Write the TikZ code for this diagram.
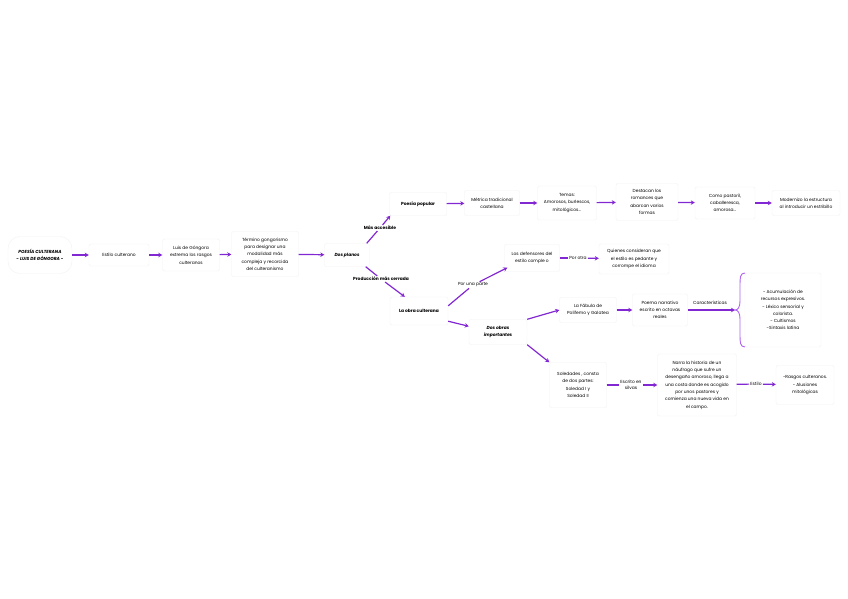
\documentclass[tikz,border=0pt]{standalone}
\usepackage{fontspec}
\setmainfont{Poppins}
\usetikzlibrary{arrows.meta}
\definecolor{purp}{RGB}{130,40,210}
\definecolor{lpurp}{RGB}{175,100,240}
\begin{document}
\begin{tikzpicture}[x=1pt,y=-1pt,
 box/.style={draw=black!5, fill=white, rounded corners=2pt, align=center, font=\fontsize{4.4}{7.3}\selectfont, inner sep=0pt},
 bbox/.style={box, font=\fontsize{4.4}{7.3}\selectfont\bfseries},
 bibox/.style={box, font=\fontsize{4.4}{7.3}\selectfont\bfseries\itshape},
 lab/.style={fill=white, inner sep=1pt, align=center, font=\fontsize{4.4}{6}\selectfont},
 blab/.style={lab, font=\fontsize{4.4}{6}\selectfont\bfseries},
 arr/.style={draw=purp, line width=1.2pt, -{Stealth[length=4pt,width=4.5pt]}},
 ln/.style={draw=purp, line width=1.2pt},
]
\useasboundingbox (0,0) rectangle (848,599);
\fill[white] (0,0) rectangle (848,599);

\node[bibox, rounded corners=12pt, minimum width=64pt, minimum height=37pt] (title) at (40,255) {POESÍA CULTERANA\\- LUIS DE GÓNGORA -};
\node[box, minimum width=60pt, minimum height=22pt] (estilo) at (119,255) {Estilo culterano};
\node[box, minimum width=57pt, minimum height=32pt] (luis) at (191,255) {Luis de Góngora\\extrema los rasgos\\culteranos};
\node[box, minimum width=67pt, minimum height=45pt] (term) at (265,254) {Término gongorismo\\para designar una\\modalidad más\\compleja y recorcida\\del culteranismo};
\node[bibox, minimum width=45pt, minimum height=23pt] (dos) at (347,255) {Dos planos};

\node[bbox, minimum width=57pt, minimum height=23pt] (pop) at (418,204) {Poesía popular};
\node[box, minimum width=55pt, minimum height=25pt] (met) at (492,203) {Métrica tradicional\\castellana};
\node[box, minimum width=59pt, minimum height=34pt] (temas) at (567,203) {Temas:\\Amorosos, burlescos,\\mitológicos...};
\node[box, minimum width=62pt, minimum height=37pt] (dest) at (647,202) {Destacan los\\romances que\\abarcan varios\\formas};
\node[box, minimum width=60pt, minimum height=32pt] (como) at (725,203) {Como pastoril,\\caballeresca,\\amorosa...};
\node[box, minimum width=68pt, minimum height=25pt] (mod) at (806,203) {Modernizo la estructura\\al introducir un estribillo};

\node[bbox, minimum width=58pt, minimum height=28pt] (obra) at (419,311) {La obra culterana};
\node[box, minimum width=55pt, minimum height=27pt] (def) at (532,258) {Los defensores del\\estilo comple o};
\node[box, minimum width=70pt, minimum height=30pt] (quien) at (634,259) {Quienes consideran que\\el estilo es pedante y\\corrompe el idioma};
\node[bibox, minimum width=58pt, minimum height=25pt] (dobras) at (498,332) {Dos obras\\importantes};
\node[box, minimum width=57pt, minimum height=25pt] (fab) at (588,310) {La Fábula de\\Polifemo y Galatea};
\node[box, minimum width=55pt, minimum height=32pt] (poema) at (660,310) {Poema narrativo\\escrito en octavas\\reales};
\node[box, minimum width=76pt, minimum height=74pt] (car) at (783,310) {- Acumulación de\\recursos expresivos.\\- Léxico sensorial y\\colorista.\\- Cultismos\\-Sintaxis latina};
\node[box, minimum width=57pt, minimum height=45pt] (sol) at (578,385) {Soledades , consta\\de dos partes:\\Soledad I y\\Soledad II};
\node[box, minimum width=79pt, minimum height=62pt] (narra) at (697,385) {Narra la historia de un\\náufrago que sufre un\\desengaño amoroso, llega a\\una costa donde es acogido\\por unos pastores y\\comienza una nueva vida en\\el campo.};
\node[box, minimum width=58pt, minimum height=39pt] (res) at (805,385) {-Rasgos culteranos.\\- Alusiones\\mitológicas};

% labels
\node[blab] (masacc) at (380,228) {Más accesible};
\node[blab] (prod) at (381,279) {Producción más cerrada};
\node[lab] (porparte) at (473,285) {Por una parte};
\node[lab] (porotra) at (578,258) {Por otra};
\node[lab, fill=none] (caract) at (710,303) {Características};
\node[lab] (silvas) at (631,385) {Escrito en\\silvas};
\node[lab] (estlab) at (756,384) {Estilo};
\coordinate (bt) at (735,310);

% connectors
\draw[arr] (title) -- (estilo);
\draw[arr] (estilo) -- (luis);
\draw[arr] (luis) -- (term);
\draw[arr] (term) -- (dos);
\draw[ln] ([xshift=-3pt]dos.north east) -- (masacc);
\draw[arr] (masacc) -- ([xshift=1pt]pop.south west);
\draw[arr] (pop) -- (met);
\draw[arr] (met) -- (temas);
\draw[arr] (temas) -- (dest);
\draw[arr] (dest) -- (como);
\draw[arr] (como) -- (mod);
\draw[ln] ([xshift=-4pt]dos.south east) -- (prod);
\draw[arr] (prod) -- ([xshift=15pt]obra.north west);
\draw[ln] ([yshift=-9pt]obra.north east) -- (porparte);
\draw[arr] (porparte) -- ([xshift=3pt,yshift=4pt]def.south west);
\draw[ln] (def) -- (porotra);
\draw[arr] (porotra) -- (quien);
\draw[arr] ([yshift=4pt]obra.south east) -- ([yshift=-7pt]dobras.north west);
\draw[arr] (dobras.north east) -- (fab.west);
\draw[arr] (dobras.south east) -- (sol.north west);
\draw[arr] (fab) -- (poema);
\draw[arr] (poema.east) -- (bt);
\draw[ln] (sol) -- (silvas);
\draw[arr] (silvas) -- (narra);
\draw[ln] (narra) -- (estlab);
\draw[arr] (estlab) -- (res);

% brace
\draw[lpurp, line width=0.9pt] (745,273) .. controls (740,273) and (740,278) .. (740,285) -- (740,301) .. controls (740,307) and (738,310) .. (735,310) .. controls (738,310) and (740,313) .. (740,319) -- (740,335) .. controls (740,342) and (740,347) .. (745,347);
\end{tikzpicture}
\end{document}
